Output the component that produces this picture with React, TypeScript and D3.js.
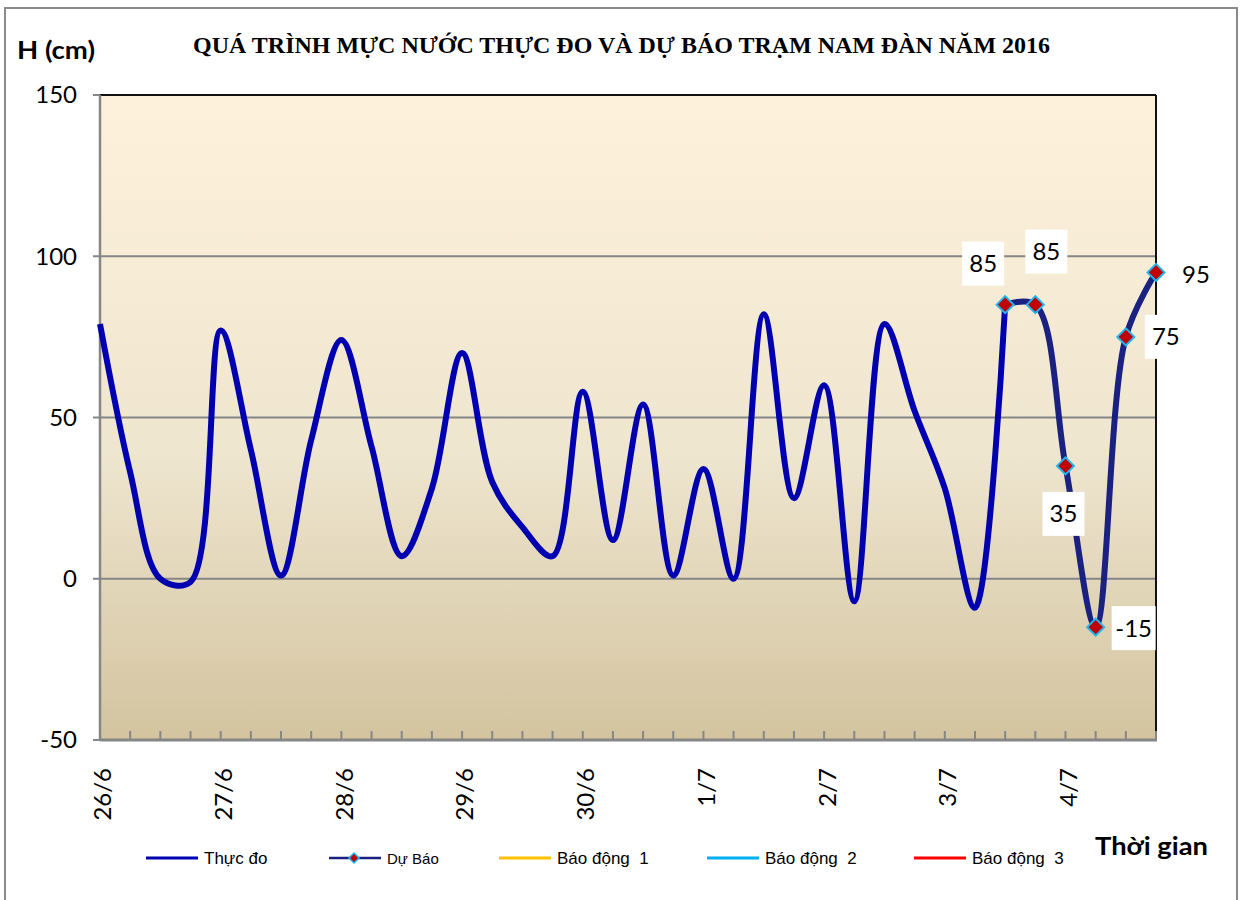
import React from "react";
import * as d3 from "d3";

// ---------- data ----------
const dayLabels = ["26/6", "27/6", "28/6", "29/6", "30/6", "1/7", "2/7", "3/7", "4/7"];
const pointsPerDay = 4; // 6-hourly
const measured = [
  79, 33, 0, -1, 77, 40, 1, 43, 74, 41, 7, 28, 70, 30, 16, 7, 58, 12, 54, 1, 34, 0, 82, 25, 60, -7, 79,
  52, 28, -9, 85,
];
const forecastStart = 30;
const forecast = [85, 85, 35, -15, 75, 95];
const yTicks = [-50, 0, 50, 100, 150];
const gridValues = [0, 50, 100];
const legendNames = ["Thực đo", "Dự Báo", "Báo động  1", "Báo động  2", "Báo động  3"];
const legendColors = ["#0000B0", "#1B2180", "#FFC000", "#00B0F0", "#FF0000"];

// ---------- layout / style ----------
const W = 1243;
const H = 900;
const plot = { left: 100, right: 1156, top: 95, bottom: 740 };
const labelOffsets: [number, number][] = [
  [-22, -41],
  [11, -53],
  [-2, 48],
  [38, 1],
  [40, 0],
  [40, 2],
];
const legendX = [146, 329, 499, 707, 914];
const legendY = 858;

export default function App() {
  const nPts = measured.length + forecast.length - 1;
  const x = d3.scaleLinear().domain([0, nPts - 1]).range([plot.left, plot.right]);
  const y = d3.scaleLinear().domain([-50, 150]).range([plot.bottom, plot.top]);

  const curve = d3.curveCatmullRom.alpha(0.5);
  const line = d3
    .line<[number, number]>()
    .x((d) => x(d[0]))
    .y((d) => y(d[1]))
    .curve(curve);

  const measPts: [number, number][] = measured.map((v, i) => [i, v]);
  const fcPts: [number, number][] = forecast.map((v, i) => [forecastStart + i, v]);

  const diamond = (cx: number, cy: number, r: number) =>
    `M${cx},${cy - r}L${cx + r},${cy}L${cx},${cy + r}L${cx - r},${cy}Z`;

  const sans = "Lato, 'Open Sans', 'DejaVu Sans', sans-serif";
  const legendFont = "'Liberation Sans', Arial, sans-serif";

  return (
    <svg
      width={W}
      height={H}
      style={{ position: "absolute", left: 0, top: 0, display: "block", background: "#fff" }}
    >
      <defs>
        <linearGradient id="bg" x1="0" y1="0" x2="0" y2="1">
          <stop offset="0" stopColor="#FEF1DB" />
          <stop offset="0.55" stopColor="#EFE6D0" />
          <stop offset="1" stopColor="#D3C49F" />
        </linearGradient>
      </defs>

      {/* outer chart border */}
      <rect x={5} y={8} width={1232} height={900} fill="#fff" stroke="#8a8a8a" strokeWidth={2} />

      {/* title */}
      <text
        x={193}
        y={53}
        textLength={857}
        lengthAdjust="spacingAndGlyphs"
        fontFamily="'Liberation Serif', 'Times New Roman', serif"
        fontWeight="bold"
        fontSize={24}
        fill="#000"
      >
        QUÁ TRÌNH MỰC NƯỚC THỰC ĐO VÀ DỰ BÁO TRẠM NAM ĐÀN NĂM 2016
      </text>
      <text x={17} y={59} fontFamily={sans} fontWeight="bold" fontSize={24} textLength={78} lengthAdjust="spacingAndGlyphs">
        H (cm)
      </text>

      {/* plot background */}
      <rect
        x={plot.left}
        y={plot.top}
        width={plot.right - plot.left}
        height={plot.bottom - plot.top}
        fill="url(#bg)"
      />

      {/* gridlines */}
      {gridValues.map((v) => (
        <line key={v} x1={plot.left} x2={plot.right} y1={y(v)} y2={y(v)} stroke="#868686" strokeWidth={2} />
      ))}

      {/* frame top/right */}
      <line x1={plot.left} x2={plot.right} y1={plot.top} y2={plot.top} stroke="#111" strokeWidth={2} />
      <line x1={plot.right} x2={plot.right} y1={plot.top} y2={plot.bottom} stroke="#111" strokeWidth={2} />

      {/* x ticks */}
      {d3.range(1, nPts).map((i) => (
        <line key={i} x1={x(i)} x2={x(i)} y1={plot.bottom} y2={plot.bottom - 9} stroke="#868686" strokeWidth={2} />
      ))}

      {/* axes */}
      <line x1={plot.left} x2={plot.left} y1={plot.top} y2={plot.bottom} stroke="#868686" strokeWidth={2.5} />
      <line x1={plot.left} x2={plot.right + 1} y1={plot.bottom} y2={plot.bottom} stroke="#868686" strokeWidth={3} />

      {/* y ticks & labels */}
      {yTicks.map((v) => (
        <g key={v}>
          <line x1={plot.left - 7} x2={plot.left} y1={y(v)} y2={y(v)} stroke="#868686" strokeWidth={2} />
          <text x={77} y={y(v)} dy="0.35em" textAnchor="end" fontFamily={sans} fontSize={24} fill="#000">
            {v}
          </text>
        </g>
      ))}

      {/* x labels */}
      {dayLabels.map((lab, d) => (
        <text
          key={lab}
          transform={`translate(${x(d * pointsPerDay) + 3},768) rotate(-90)`}
          textAnchor="end"
          dy="0.35em"
          fontFamily={sans}
          fontSize={24}
          fill="#000"
        >
          {lab}
        </text>
      ))}

      {/* series */}
      <path d={line(measPts) || ""} fill="none" stroke="#0000B0" strokeWidth={6} strokeLinejoin="round" />
      <path d={line(fcPts) || ""} fill="none" stroke="#1B2180" strokeWidth={6} strokeLinejoin="round" />

      {/* markers */}
      {fcPts.map(([i, v]) => (
        <path key={i} d={diamond(x(i), y(v), 8.5)} fill="#C00000" stroke="#1EB8F0" strokeWidth={2} />
      ))}

      {/* data labels */}
      {fcPts.map(([i, v], k) => {
        const cx = x(i) + labelOffsets[k][0];
        const cy = y(v) + labelOffsets[k][1];
        const txt = String(v);
        const bw = txt.length > 2 ? 44 : 42;
        return (
          <g key={i}>
            <rect x={cx - bw / 2} y={cy - 22} width={bw} height={44} fill="#fff" />
            <text x={cx} y={cy} dy="0.35em" textAnchor="middle" fontFamily={sans} fontSize={24} fill="#000">
              {txt}
            </text>
          </g>
        );
      })}

      {/* legend */}
      {legendNames.map((name, k) => {
        const lx = legendX[k];
        return (
          <g key={name}>
            <line x1={lx} x2={lx + 52} y1={legendY} y2={legendY} stroke={legendColors[k]} strokeWidth={k === 1 ? 2.5 : 3} />
            {k === 1 && <path d={diamond(lx + 25, legendY, 5)} fill="#C00000" stroke="#1EB8F0" strokeWidth={1.5} />}
            <text
              x={lx + 58}
              y={legendY + 6}
              fontFamily={legendFont}
              fontSize={k === 1 ? 15 : 17}
              fill="#000"
              style={{ whiteSpace: "pre" }}
            >
              {name}
            </text>
          </g>
        );
      })}

      {/* x axis title */}
      <text x={1095} y={855} fontFamily={sans} fontWeight="bold" fontSize={25} textLength={113} lengthAdjust="spacingAndGlyphs">
        Thời gian
      </text>
    </svg>
  );
}
